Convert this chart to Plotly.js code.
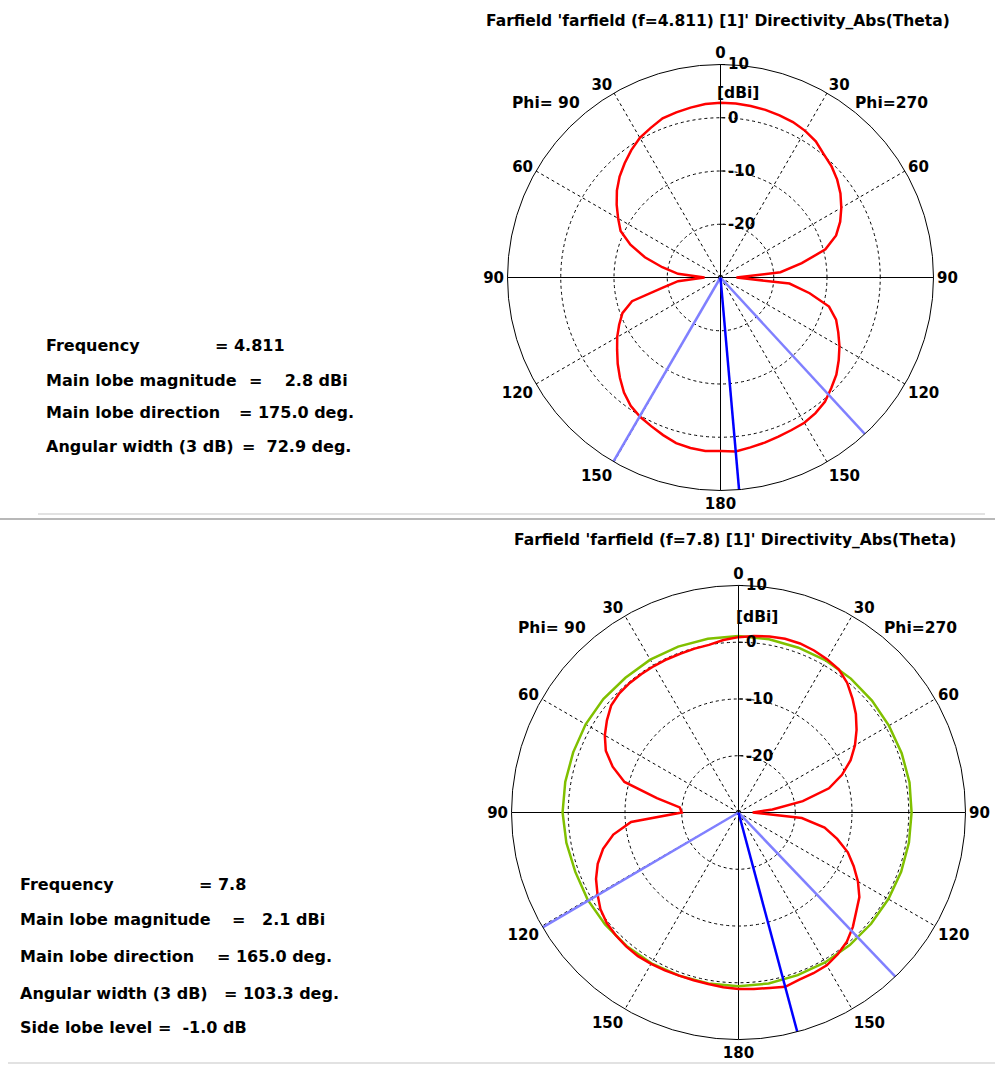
<!DOCTYPE html>
<html><head><meta charset="utf-8">
<script src="https://cdn.plot.ly/plotly-3.0.1.min.js"></script>
<style>html,body{margin:0;padding:0;background:#fff;} #chart{width:995px;height:1066px;}</style>
</head><body><div id="chart"></div>
<script>
// ---------------- DATA ----------------
const theta = [0,5,10,15,20,25,30,35,40,45,50,55,60,65,70,75,80,85,90,95,100,105,110,115,120,125,130,135,140,145,150,155,160,165,170,175,180];

// f = 4.811 : Directivity (dBi) vs theta, Phi=270 side (right) and Phi=90 side (left)
const topPhi270 = [2.8,2.8,2.7,2.6,2.4,2.2,1.8,1.2,0.2,-0.5,-1.4,-2.5,-3.8,-5.2,-6.9,-9.6,-14.5,-18.7,-27,-17,-13,-8.9,-6.9,-5.6,-4.2,-2.9,-1.6,-0.6,0.5,1.1,1.5,1.6,1.8,2.1,2.4,2.8,2.6];
const topPhi90  = [2.8,2.7,2.4,2.1,1.8,1.0,0.3,-0.8,-2.0,-3.2,-4.6,-6.2,-7.8,-9.3,-12.0,-15.3,-18.9,-22.0,-27,-22,-19,-12.8,-10.4,-9.0,-7.6,-6.3,-4.8,-3.3,-1.8,-0.6,0.2,0.8,1.5,2.2,2.5,2.7,2.6];

// f = 7.8
const botPhi270 = [0.9,1.2,1.5,1.7,1.7,1.5,1.2,0.8,-0.2,-1.6,-3.0,-4.6,-6.3,-8.2,-10.6,-13.5,-18.5,-24,-27.5,-18.8,-14.6,-12.0,-9.5,-7.6,-5.7,-4.0,-2.9,-1.5,-0.3,0.5,1.1,1.25,1.35,1.8,1.4,1.2,1.1];
const botPhi90  = [0.9,0.5,0.0,-0.1,-0.2,-0.2,-0.2,-0.2,-0.2,-0.3,-0.7,-1.7,-2.8,-4.2,-6.4,-9.2,-15.4,-19.6,-20.0,-11.0,-7.6,-5.3,-3.6,-2.3,-1.3,-0.3,0.3,0.6,0.8,0.9,0.8,0.7,0.6,0.6,0.7,0.9,1.1];

const greenTheta = [0,10,20,30,40,50,60,70,80,90,100,110,120,130,140,150,160,170,180];
const botGreenPhi270 = [1.1,1.0,0.9,0.9,0.8,0.7,0.6,0.6,0.6,0.5,0.5,0.5,0.5,0.5,0.5,0.5,0.5,0.6,0.6];
const botGreenPhi90  = [1.1,1.1,1.1,1.1,1.0,1.1,1.1,1.0,1.0,1.0,0.8,0.6,0.7,0.7,0.7,0.7,0.6,0.6,0.6];

// beam markers: [theta, side]
const topMainLobe = [175, 270];
const topHalfPower = [[137.3, 270], [149.8, 90]];
const botMainLobe = [165, 270];
const botHalfPower = [[136.3, 270], [120.4, 90]];

const angleTickVals = [0,30,60,90,120,150,180,210,240,270,300,330];
const angleTickText = ['0','30','60','90','120','150','180','150','120','90','60','30'];
const radialTickVals = [-20,-10,0,10];
const radialTickText = ['-20','-10','0','10'];
const radialRange = [-30, 10];
const crossAngles = [[0,180],[90,270]];

const topTitle = "Farfield 'farfield (f=4.811) [1]' Directivity_Abs(Theta)";
const botTitle = "Farfield 'farfield (f=7.8) [1]' Directivity_Abs(Theta)";
const NB = '\u00A0';
const topInfoLabels = ['Frequency','Main lobe magnitude','Main lobe direction','Angular width (3 dB)'];
const topInfoValues = ['= 4.811','='+NB+NB+NB+NB+'2.8 dBi','= 175.0 deg.','='+NB+NB+'72.9 deg.'];
const botInfoLabels = ['Frequency','Main lobe magnitude','Main lobe direction','Angular width (3 dB)','Side lobe level ='+NB+NB+'-1.0 dB'];
const botInfoValues = ['= 7.8','='+NB+NB+NB+'2.1 dBi','= 165.0 deg.','= 103.3 deg.',''];

// ---------------- BUILD ----------------
const W = 995, H = 1066;
function plotAngle(t, side){ return side === 270 ? t : 360 - t; }
function closedCurve(th, right, left){
  const ang = th.map(t => plotAngle(t, 270));
  const r = right.slice();
  for (let i = th.length - 1; i >= 0; i--) { ang.push(plotAngle(th[i], 90)); r.push(left[i]); }
  return {ang, r};
}
function beam(def){ const a = plotAngle(def[0], def[1]); return {theta:[a,a], r:[radialRange[0], radialRange[1]]}; }

const traces = [];
function addPlot(sub, right, left, green, main, half){
  crossAngles.forEach(ca => {
    traces.push({type:'scatterpolar', subplot:sub, mode:'lines', theta:[ca[0], ca[0], ca[1]],
      r:[radialRange[1], radialRange[0], radialRange[1]],
      line:{color:'black', width:1}, hoverinfo:'skip', showlegend:false});
  });
  if (green){
    const g = closedCurve(greenTheta, green[0], green[1]);
    traces.push({type:'scatterpolar', subplot:sub, mode:'lines', theta:g.ang, r:g.r,
      line:{color:'#80c000', width:2.5}, showlegend:false});
  }
  const c = closedCurve(theta, right, left);
  traces.push({type:'scatterpolar', subplot:sub, mode:'lines', theta:c.ang, r:c.r,
    line:{color:'#ff0000', width:2.5}, showlegend:false});
  half.forEach(h => { const b = beam(h);
    traces.push({type:'scatterpolar', subplot:sub, mode:'lines', theta:b.theta, r:b.r,
      line:{color:'#8080ff', width:2.5}, showlegend:false}); });
  const m = beam(main);
  traces.push({type:'scatterpolar', subplot:sub, mode:'lines', theta:m.theta, r:m.r,
    line:{color:'#0000ff', width:2.5}, showlegend:false});
}
addPlot('polar', topPhi270, topPhi90, null, topMainLobe, topHalfPower);
addPlot('polar2', botPhi270, botPhi90, [botGreenPhi270, botGreenPhi90], botMainLobe, botHalfPower);

const tickFont = {family:'DejaVu Sans', size:15, color:'black', weight:'bold'};
function polarCfg(x0, x1, y0, y1){
  return {
    domain:{x:[x0/W, x1/W], y:[1 - y1/H, 1 - y0/H]},
    bgcolor:'white',
    angularaxis:{rotation:90, direction:'clockwise', tickmode:'array', tickvals:angleTickVals, ticktext:angleTickText,
      showline:true, linecolor:'black', linewidth:1, gridcolor:'black', griddash:'3px,3px', gridwidth:1,
      ticks:'', tickfont:tickFont},
    radialaxis:{range:radialRange, tickmode:'array', tickvals:radialTickVals, ticktext:radialTickText,
      angle:90, side:'clockwise', showline:true, linecolor:'black', linewidth:1,
      ticks:'outside', ticklen:4, tickcolor:'black', gridcolor:'black', griddash:'3px,3px', gridwidth:1,
      tickfont:tickFont, tickangle:90}
  };
}

const annFont = {family:'DejaVu Sans', size:16, color:'black', weight:'bold'};
const annotations = [];
function ann(text, px, py, anchor, size){
  annotations.push({text:text, xref:'paper', yref:'paper', x:px/W, y:1 - py/H, xanchor:anchor || 'left', yanchor:'middle',
    showarrow:false, font:Object.assign({}, annFont, size ? {size:size} : {})});
}
ann(topTitle, 718, 21, 'center', 15.5);
ann(botTitle, 735, 540, 'center', 15.5);
ann('Phi= 90', 546, 103, 'center', 15.5);
ann('Phi=270', 891, 103, 'center', 15.5);
ann('Phi= 90', 552, 628, 'center', 15.5);
ann('Phi=270', 920, 628, 'center', 15.5);
ann('[dBi]', 738, 93, 'center', 15.5);
ann('[dBi]', 757, 617, 'center', 15.5);

const topY = [345, 380, 413, 447];
const topValX = [213, 247, 237, 240];
topInfoLabels.forEach((t,i) => { ann(t, 44, topY[i]); ann(topInfoValues[i], topValX[i], topY[i]); });
const botY = [884, 919, 956, 993, 1027];
const botValX = [197, 230, 215, 222, 0];
botInfoLabels.forEach((t,i) => { ann(t, 18, botY[i]); if (botInfoValues[i]) ann(botInfoValues[i], botValX[i], botY[i]); });

const shapes = [
  {type:'line', xref:'paper', yref:'paper', x0:38/W, x1:985/W, y0:1-514/H, y1:1-514/H, line:{color:'#e2e2e2', width:2}},
  {type:'line', xref:'paper', yref:'paper', x0:0, x1:1, y0:1-519/H, y1:1-519/H, line:{color:'#a0a0a0', width:1.5}},
  {type:'line', xref:'paper', yref:'paper', x0:8/W, x1:1, y0:1-1063/H, y1:1-1063/H, line:{color:'#e2e2e2', width:2}}
];

const layout = {
  width:W, height:H, margin:{l:0,r:0,t:0,b:0}, paper_bgcolor:'white', showlegend:false,
  polar: polarCfg(507.5, 933.5, 64.5, 490.5),
  polar2: polarCfg(511.5, 965.5, 585.5, 1039.5),
  annotations: annotations, shapes: shapes
};
Plotly.newPlot('chart', traces, layout, {staticPlot:true, displayModeBar:false});
</script></body></html>
